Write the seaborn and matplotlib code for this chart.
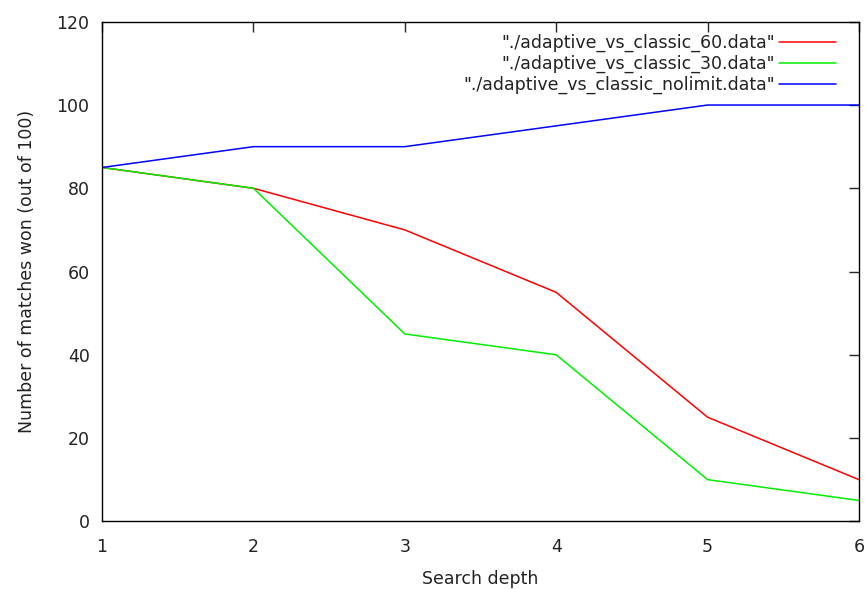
import pandas as pd
import seaborn as sns
import matplotlib.pyplot as plt

# Data
depth = [1, 2, 3, 4, 5, 6]
won_60 = [85, 80, 70, 55, 25, 10]
won_30 = [85, 80, 45, 40, 10, 5]
won_nolimit = [85, 90, 90, 95, 100, 100]

series_names = [
    '"./adaptive_vs_classic_60.data"',
    '"./adaptive_vs_classic_30.data"',
    '"./adaptive_vs_classic_nolimit.data"',
]
series_colors = ["#ff0000", "#00ee00", "#0000ff"]

sns.set_style("white")
plt.rcParams['font.family'] = ['DejaVu Sans']

FS = 12.5

fig = plt.figure(figsize=(8.65, 5.89), dpi=100)
ax = fig.add_axes([0.118, 0.115, 0.875, 0.848])

for name, values, color in zip(series_names, [won_60, won_30, won_nolimit], series_colors):
    df = pd.DataFrame({"depth": depth, "won": values})
    sns.lineplot(data=df, x="depth", y="won", color=color, linewidth=1.1,
                 label=name, ax=ax)

ax.set_xlim(1, 6)
ax.set_ylim(0, 120)
ax.set_xticks(depth)
ax.set_yticks(range(0, 121, 20))
ax.set_xlabel("Search depth", fontsize=FS, color="#222222", labelpad=10)
ax.set_ylabel("Number of matches won (out of 100)", fontsize=FS, color="#222222", labelpad=15)

ax.tick_params(direction="in", length=7, width=1, top=True, right=True,
               labelsize=FS, labelcolor="#222222", pad=9)
ax.tick_params(axis="x", pad=12)
for spine in ax.spines.values():
    spine.set_visible(True)
    spine.set_color("black")
    spine.set_linewidth(1)

leg = ax.legend(loc="upper right", bbox_to_anchor=(0.970, 0.976), frameon=False,
                markerfirst=False, fontsize=FS, handlelength=3.3,
                handletextpad=0.25, labelspacing=0.17, borderpad=0,
                borderaxespad=0)
for text in leg.get_texts():
    text.set_color("#222222")

fig.savefig("out.png", dpi=100)
